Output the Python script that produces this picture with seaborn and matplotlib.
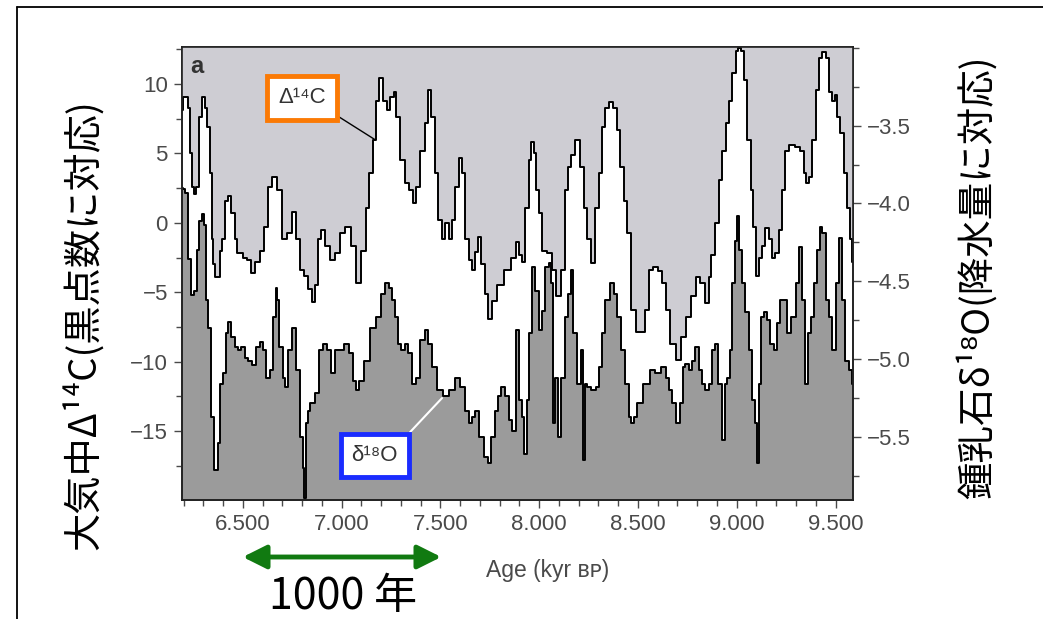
import matplotlib
matplotlib.use("Agg")
import matplotlib.pyplot as plt
import seaborn as sns
from matplotlib.lines import Line2D
from matplotlib.patches import FancyArrowPatch
from matplotlib.ticker import FixedLocator, MultipleLocator

# Atmospheric Δ14C (per mil), left scale
age_c14 = [6190, 6200, 6215, 6225, 6235, 6245, 6255, 6270, 6290, 6300, 6315, 6325, 6340, 6345, 6355,
           6365, 6380, 6390, 6395, 6420, 6430, 6450, 6470, 6475, 6495, 6510, 6535, 6550, 6575, 6595,
           6620, 6635, 6660, 6685, 6710, 6735, 6765, 6775, 6800, 6815, 6840, 6855, 6870, 6890, 6905,
           6925, 6955, 6975, 7005, 7030, 7065, 7080, 7115, 7130, 7150, 7170, 7180, 7200, 7220, 7235,
           7255, 7270, 7285, 7310, 7330, 7355, 7370, 7385, 7410, 7430, 7445, 7460, 7480, 7500, 7515,
           7535, 7550, 7565, 7585, 7600, 7615, 7635, 7650, 7665, 7685, 7700, 7715, 7735, 7750, 7775,
           7800, 7840, 7870, 7890, 7905, 7920, 7940, 7955, 7965, 7980, 7990, 8005, 8020, 8055, 8070,
           8105, 8120, 8140, 8155, 8170, 8195, 8220, 8235, 8250, 8270, 8295, 8310, 8325, 8345, 8360,
           8385, 8400, 8420, 8435, 8450, 8475, 8500, 8525, 8545, 8565, 8590, 8615, 8630, 8650, 8675,
           8705, 8730, 8755, 8780, 8805, 8825, 8850, 8865, 8875, 8900, 8920, 8935, 8955, 8970, 8985,
           9005, 9010, 9030, 9045, 9060, 9080, 9085, 9105, 9120, 9135, 9155, 9170, 9185, 9205, 9220,
           9235, 9255, 9275, 9310, 9335, 9345, 9360, 9375, 9390, 9410, 9425, 9440, 9460, 9475, 9490,
           9500, 9515, 9535, 9550, 9565, 9580, 9590]
d14c = [8.1, 9.1, 9.1, 8.3, 5.0, 2.6, 2.1, 2.6, 7.6, 9.1, 8.3, 6.9, 3.6, -1.2, -3.0,
        -3.9, -3.9, -2.0, -1.2, 1.6, 1.9, 0.7, -1.2, -2.2, -2.2, -2.5, -2.7, -3.6, -2.8, -2.0,
        -0.3, 2.6, 3.3, 2.4, -1.2, -0.7, 0.8, -1.2, -3.4, -3.8, -4.8, -5.7, -4.5, -1.2, -0.5,
        -1.7, -2.7, -2.2, -0.7, -0.3, -1.7, -4.3, -2.0, 1.1, 3.6, 6.0, 8.8, 10.4, 8.8, 8.1,
        9.1, 9.4, 7.6, 4.5, 2.9, 2.4, 1.4, 2.6, 5.2, 7.2, 9.6, 7.6, 3.6, 0.2, -1.2,
        0.0, -1.2, 0.2, 2.6, 4.7, 3.6, -1.2, -2.7, -3.4, -2.1, -1.0, -3.0, -5.1, -6.9, -5.6,
        -4.5, -3.4, -2.5, -1.4, -2.3, -2.8, 1.1, 4.5, 5.8, 5.0, 2.4, 0.7, -2.0, -2.2, -3.4,
        -5.3, -3.4, 2.4, 4.0, 4.9, 6.0, 4.0, 1.1, -1.2, -2.9, 1.1, 3.6, 6.9, 8.3, 8.7,
        8.3, 6.7, 4.0, 1.6, -0.7, -6.3, -7.9, -7.9, -6.3, -3.4, -3.2, -3.5, -4.3, -6.3, -8.7,
        -9.9, -8.2, -6.8, -5.3, -3.9, -4.3, -5.8, -3.9, -2.3, 0.0, 3.1, 5.2, 7.2, 8.8, 10.8,
        12.4, 12.6, 12.4, 10.3, 6.0, 2.4, -0.3, -3.8, -2.5, -1.7, -0.4, -1.2, -2.5, -2.2, -0.5,
        2.4, 5.2, 5.6, 5.5, 5.2, 3.6, 2.9, 3.3, 6.0, 9.6, 11.9, 12.3, 11.9, 9.4, 8.8,
        9.2, 7.6, 6.5, 3.6, 1.1, -1.2, -2.8]

# Stalagmite δ18O (per mil), right scale
age_o18 = [6190, 6200, 6215, 6230, 6245, 6260, 6270, 6285, 6300, 6310, 6320, 6330, 6345, 6365, 6380,
           6390, 6410, 6420, 6430, 6450, 6470, 6485, 6500, 6520, 6535, 6560, 6575, 6595, 6610, 6625,
           6645, 6660, 6670, 6675, 6695, 6710, 6720, 6735, 6760, 6775, 6800, 6805, 6815, 6825, 6830,
           6850, 6875, 6900, 6915, 6940, 6955, 6975, 7000, 7025, 7050, 7065, 7080, 7100, 7130, 7160,
           7185, 7210, 7230, 7245, 7260, 7280, 7295, 7310, 7330, 7345, 7370, 7385, 7410, 7430, 7445,
           7470, 7500, 7525, 7560, 7585, 7610, 7635, 7650, 7665, 7685, 7710, 7735, 7750, 7765, 7785,
           7800, 7815, 7840, 7855, 7870, 7890, 7905, 7920, 7930, 7945, 7955, 7970, 7990, 8005, 8020,
           8040, 8055, 8065, 8070, 8090, 8105, 8120, 8140, 8155, 8165, 8180, 8200, 8220, 8225, 8235,
           8250, 8275, 8295, 8310, 8325, 8345, 8370, 8385, 8400, 8425, 8445, 8460, 8470, 8485, 8510,
           8545, 8575, 8600, 8630, 8650, 8665, 8680, 8705, 8725, 8730, 8750, 8765, 8780, 8800, 8815,
           8830, 8850, 8865, 8880, 8900, 8915, 8935, 8945, 8960, 8970, 8985, 8995, 9005, 9020, 9030,
           9055, 9070, 9085, 9100, 9105, 9120, 9130, 9145, 9160, 9180, 9195, 9210, 9230, 9245, 9260,
           9285, 9310, 9325, 9340, 9355, 9365, 9385, 9400, 9415, 9425, 9440, 9460, 9475, 9490, 9510,
           9525, 9540, 9560, 9575, 9590]
d18o = [-3.90, -3.91, -3.93, -4.36, -4.59, -4.56, -4.30, -4.11, -4.07, -4.14, -4.62, -4.80, -5.37, -5.71, -5.54,
        -5.16, -5.09, -4.83, -4.76, -4.86, -4.92, -4.94, -4.92, -4.99, -5.01, -5.04, -4.92, -4.89, -4.94, -5.12,
        -5.07, -4.73, -4.54, -4.62, -4.92, -5.12, -5.18, -4.94, -4.80, -5.07, -5.50, -5.70, -5.89, -5.41, -5.33,
        -5.28, -5.22, -4.94, -4.90, -4.94, -5.09, -4.94, -4.94, -4.90, -4.96, -5.14, -5.20, -5.14, -5.01, -4.80,
        -4.73, -4.58, -4.51, -4.54, -4.62, -4.73, -4.90, -4.94, -4.90, -4.96, -5.16, -5.12, -4.88, -4.81, -4.90,
        -5.05, -5.20, -5.24, -5.20, -5.12, -5.18, -5.33, -5.41, -5.37, -5.33, -5.50, -5.63, -5.67, -5.50, -5.33,
        -5.24, -5.18, -5.24, -5.39, -5.46, -4.81, -5.26, -5.37, -5.61, -5.26, -4.83, -4.41, -4.56, -4.81, -4.69,
        -4.41, -4.38, -4.51, -5.41, -5.12, -5.50, -5.12, -4.73, -4.58, -4.43, -4.83, -5.16, -4.94, -5.65, -5.16,
        -5.18, -5.20, -5.18, -5.05, -4.83, -4.62, -4.51, -4.58, -4.73, -4.94, -5.16, -5.37, -5.41, -5.37, -5.28,
        -5.16, -5.07, -5.09, -5.05, -5.12, -5.20, -5.28, -5.41, -5.28, -5.05, -5.03, -5.07, -5.01, -4.92, -5.07,
        -5.16, -5.20, -5.16, -4.94, -4.90, -5.16, -5.52, -5.16, -5.12, -4.94, -4.51, -4.24, -4.08, -4.30, -4.51,
        -4.70, -4.94, -5.26, -5.41, -5.67, -5.16, -4.73, -4.70, -4.75, -4.90, -4.94, -4.77, -4.62, -4.62, -4.83,
        -4.73, -4.51, -4.28, -4.62, -5.16, -4.83, -4.73, -4.51, -4.30, -4.15, -4.19, -4.62, -4.73, -4.94, -4.51,
        -4.22, -4.62, -5.01, -5.07, -5.16]

x_ticks = [6500, 7000, 7500, 8000, 8500, 9000, 9500]
x_tick_labels = ["6.500", "7.000", "7.500", "8.000", "8.500", "9.000", "9.500"]
c14_ticks = [-15, -10, -5, 0, 5, 10]
c14_tick_labels = ["\u221215", "\u221210", "\u22125", "0", "5", "10"]
o18_ticks = [-5.5, -5.0, -4.5, -4.0, -3.5]
o18_tick_labels = ["\u22125.5", "\u22125.0", "\u22124.5", "\u22124.0", "\u22123.5"]

left_label = "大気中Δ¹⁴C(黒点数に対応)"
right_label = "鍾乳石δ¹⁸O(降水量に対応)"
x_label = "Age (kyr ʙᴘ)"
span_label = "1000 年"

sns.set_theme(style="ticks")
plt.rcParams["font.family"] = ["Liberation Sans", "DejaVu Sans"]
JP = ["Noto Sans CJK JP", "DejaVu Sans"]

LIGHT = "#cecdd3"
DARK = "#9b9b9b"
GRAY = "#4a4a4a"

fig = plt.figure(figsize=(10.43, 6.19), dpi=100)
ax = fig.add_axes([0.1742, 0.1922, 0.6439, 0.7319])
ax2 = ax.twinx()
ax.set_zorder(ax2.get_zorder() + 1)
ax.patch.set_visible(False)
ax2.patch.set_visible(True)
ax2.patch.set_facecolor("white")

XLIM = (6190, 9590)
C_LIM = (-19.97, 12.67)
O_LIM = (-5.905, -2.995)

# δ18O: dark band below the curve (right scale)
ax2.fill_between(age_o18, d18o, O_LIM[0] - 1, step="mid", color=DARK, lw=0)
sns.lineplot(x=age_o18, y=d18o, ax=ax2, color="black", lw=1.4,
             drawstyle="steps-mid", estimator=None, sort=False)

# Δ14C: light band above the curve (left scale)
ax.fill_between(age_c14, d14c, C_LIM[1] + 5, step="mid", color=LIGHT, lw=0)
sns.lineplot(x=age_c14, y=d14c, ax=ax, color="black", lw=1.4,
             drawstyle="steps-mid", estimator=None, sort=False)

ax.set_xlim(XLIM)
ax.set_ylim(C_LIM)
ax2.set_ylim(O_LIM)

ax.xaxis.set_major_locator(FixedLocator(x_ticks))
ax.set_xticklabels(x_tick_labels)
ax.xaxis.set_minor_locator(MultipleLocator(100))
ax.yaxis.set_major_locator(FixedLocator(c14_ticks))
ax.set_yticklabels(c14_tick_labels)
ax.yaxis.set_minor_locator(MultipleLocator(2.5))
ax2.yaxis.set_major_locator(FixedLocator(o18_ticks))
ax2.set_yticklabels(o18_tick_labels)
ax2.yaxis.set_minor_locator(MultipleLocator(0.25))

for a in (ax, ax2):
    a.tick_params(which="major", direction="out", length=6, width=1.0, color=GRAY,
                  labelcolor=GRAY, labelsize=16, pad=4)
    a.tick_params(which="minor", direction="out", length=4, width=1.0, color=GRAY)
    for s in a.spines.values():
        s.set_color("#222222")
        s.set_linewidth(1.2)
    a.set_xlabel("")
    a.set_ylabel("")

ax.set_xlabel(x_label, fontsize=16.5, color=GRAY)
ax.xaxis.set_label_coords(0.545, -0.13)

ax.text(0.023, 0.956, "a", transform=ax.transAxes, fontsize=17, fontweight="bold",
        color="#333333", ha="center", va="center")

# curve labels
ax.annotate("Δ¹⁴C", xy=(7168, 6.0), xytext=(6798, 9.0), textcoords="data",
            ha="center", va="center", fontsize=16, color="#333333",
            bbox=dict(boxstyle="square,pad=0.5", fc="white", ec="#fb7a05", lw=3.5),
            arrowprops=dict(arrowstyle="-", color="black", lw=1.0, relpos=(1, 0),
                            shrinkA=0, shrinkB=0))
ax2.annotate("δ¹⁸O", xy=(7508, -5.25), xytext=(7168, -5.618), textcoords="data",
             ha="center", va="center", fontsize=16, color="#333333",
             bbox=dict(boxstyle="square,pad=0.5", fc="white", ec="#1a2cff", lw=3.5),
             arrowprops=dict(arrowstyle="-", color="white", lw=1.5, relpos=(1, 1),
                             shrinkA=0, shrinkB=0))

W, H = 1043, 619
fig.text(84 / W, 1 - 325 / H, left_label, rotation=90, ha="center", va="center",
         fontsize=27.5, family=JP, color="black")
fig.text(978 / W, 1 - 277 / H, right_label, rotation=90, ha="center", va="center",
         fontsize=27, family=JP, color="black")
fig.text(343 / W, 1 - 597 / H, span_label, ha="center", va="center",
         fontsize=31, family=JP, color="black")

# 1000-year span arrow
fig.add_artist(FancyArrowPatch((240 / W, 1 - 557 / H), (444 / W, 1 - 557 / H),
                               transform=fig.transFigure,
                               arrowstyle="<|-|>,head_length=1.3,head_width=0.65",
                               mutation_scale=11, color="#117a11", lw=3.5))

# page frame
fig.add_artist(Line2D([17 / W, 1], [1 - 7 / H, 1 - 7 / H], transform=fig.transFigure,
                      color="black", lw=1.3))
fig.add_artist(Line2D([17 / W, 17 / W], [0, 1 - 7 / H], transform=fig.transFigure,
                      color="black", lw=1.3))

fig.savefig("out.png", dpi=100)
